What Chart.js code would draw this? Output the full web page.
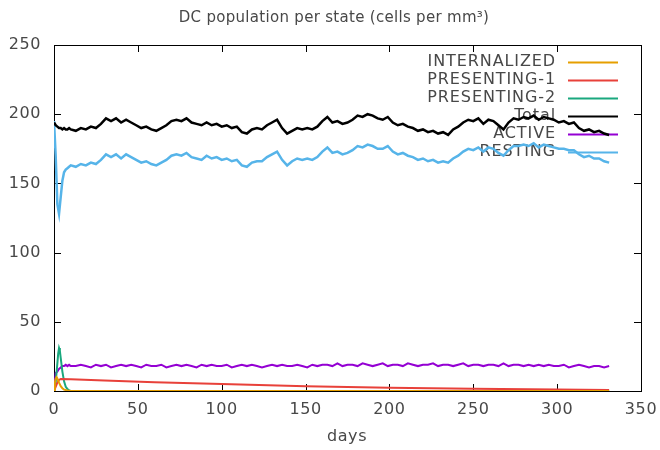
<!DOCTYPE html>
<html>
<head>
<meta charset="utf-8">
<script src="https://cdn.jsdelivr.net/npm/chart.js@4/dist/chart.umd.min.js"></script>
<style>
  html, body { margin: 0; padding: 0; background: #fff; }
  #wrap { width: 660px; height: 450px; }
</style>
</head>
<body>
<div id="wrap"><canvas id="dcChart" width="660" height="450"></canvas></div>
<script>
// sampled days for the noisy series (Total, Active, Resting)
const days = [0, 1, 2, 3, 4, 5, 6, 7, 8, 9, 10,
    13, 16, 19, 22, 25, 28, 31, 34, 37, 40, 43, 46, 49, 52, 55, 58, 61, 64, 67, 70,
    73, 76, 79, 82, 85, 88, 91, 94, 97, 100, 103, 106, 109, 112, 115, 118, 121, 124, 127, 130,
    133, 136, 139, 142, 145, 148, 151, 154, 157, 160, 163, 166, 169, 172, 175, 178, 181, 184, 187, 190,
    193, 196, 199, 202, 205, 208, 211, 214, 217, 220, 223, 226, 229, 232, 235, 238, 241, 244, 247, 250,
    253, 256, 259, 262, 265, 268, 271, 274, 277, 280, 283, 286, 289, 292, 295, 298, 301, 304, 307, 310,
    313, 316, 319, 322, 325, 328, 331];

const totalCells = [194, 192, 191, 190, 190, 189, 190, 189, 189, 190, 189,
    188, 190, 189, 191, 190, 193, 197, 195, 197, 194, 196, 194, 192, 190, 191, 189, 188, 190, 192, 195,
    196, 195, 197, 194, 193, 192, 194, 192, 193, 191, 192, 190, 191, 187, 186, 189, 190, 189, 192, 194,
    196, 190, 186, 188, 190, 189, 190, 189, 191, 195, 198, 194, 195, 193, 194, 196, 199, 198, 200, 199,
    197, 196, 198, 194, 192, 193, 191, 190, 188, 189, 187, 188, 186, 187, 185, 189, 191, 194, 196, 195,
    197, 193, 196, 195, 192, 189, 194, 197, 196, 198, 197, 199, 196, 198, 197, 196, 194, 195, 193, 194,
    190, 188, 189, 187, 188, 186, 185];

const activeCells = [0, 13, 14, 16, 17, 18, 18, 19, 18, 19, 18,
    18, 19, 18, 17, 19, 18, 19, 17, 18, 19, 18, 19, 18, 17, 19, 18, 18, 19, 17, 18,
    19, 18, 19, 18, 17, 19, 18, 19, 18, 18, 19, 17, 18, 19, 18, 19, 18, 17, 18, 19,
    18, 19, 18, 18, 19, 18, 17, 19, 18, 19, 19, 18, 20, 18, 19, 19, 18, 20, 19, 18,
    19, 20, 18, 19, 19, 18, 20, 19, 18, 19, 19, 20, 18, 19, 19, 18, 19, 20, 18, 19,
    19, 18, 19, 19, 18, 20, 18, 19, 19, 18, 19, 18, 19, 18, 19, 18, 18, 19, 17, 18,
    19, 18, 17, 18, 18, 17, 18];

const restingCells = [195, 170, 135, 128, 140, 152, 158, 160, 161, 162, 163,
    162, 164, 163, 165, 164, 167, 171, 169, 171, 168, 171, 169, 167, 165, 166, 164, 163, 165, 167, 170,
    171, 170, 172, 169, 168, 167, 170, 168, 169, 167, 168, 166, 167, 163, 162, 165, 166, 166, 169, 171,
    173, 167, 163, 166, 168, 167, 168, 167, 169, 173, 176, 172, 173, 171, 172, 174, 177, 176, 178, 177,
    175, 175, 177, 173, 171, 172, 170, 169, 167, 168, 166, 167, 165, 166, 165, 168, 170, 173, 175, 174,
    176, 173, 176, 175, 172, 170, 174, 177, 177, 178, 177, 179, 176, 178, 177, 176, 175, 175, 174, 174,
    171, 169, 170, 168, 168, 166, 165];

// short-lived states
const internalizedDays = [0, 0.5, 1, 1.5, 2, 3, 4, 5, 6, 8, 10, 331];
const internalizedCells = [0, 6, 9, 10, 9, 6, 3.5, 2, 1, 0.3, 0, 0];

const presenting1Days = [0, 1, 2, 3, 4, 10, 30, 60, 100, 150, 200, 250, 300, 331];
const presenting1Cells = [0, 3, 6, 8, 8.7, 8.5, 7.5, 6.3, 5, 3.5, 2.3, 1.6, 1, 0.7];

const presenting2Days = [0, 1, 2, 2.5, 3, 3.5, 4, 5, 6, 7, 8, 9, 10, 331];
const presenting2Cells = [0, 6, 20, 27, 31, 29, 24, 14, 7, 3, 1.5, 0.5, 0, 0];

const xTicks = [0, 50, 100, 150, 200, 250, 300, 350];
const yTicks = [0, 50, 100, 150, 200, 250];

const FONT = '"DejaVu Sans", sans-serif';
const TEXT = '#484848';

function pts(xs, ys) {
    return xs.map((x, i) => ({ x: x, y: ys[i] }));
}

const series = [
    { label: 'INTERNALIZED', data: pts(internalizedDays, internalizedCells), color: '#e69f00', width: 2 },
    { label: 'PRESENTING-1', data: pts(presenting1Days, presenting1Cells), color: '#e8413a', width: 2 },
    { label: 'PRESENTING-2', data: pts(presenting2Days, presenting2Cells), color: '#1aa87e', width: 2 },
    { label: 'Total', data: pts(days, totalCells), color: '#000000', width: 2.5 },
    { label: 'ACTIVE', data: pts(days, activeCells), color: '#9400d3', width: 2 },
    { label: 'RESTING', data: pts(days, restingCells), color: '#56b4e9', width: 2.5 }
];

// gnuplot-like frame, inward ticks, tick labels, key, title and x label
const gnuplotLook = {
    id: 'gnuplotLook',
    beforeDatasetsDraw(chart) {
        const ctx = chart.ctx;
        const a = chart.chartArea;
        const sx = chart.scales.x, sy = chart.scales.y;
        ctx.save();
        ctx.strokeStyle = '#000';
        ctx.lineWidth = 1;
        ctx.strokeRect(Math.round(a.left) + 0.5, Math.round(a.top) + 0.5,
            Math.round(a.right - a.left), Math.round(a.bottom - a.top));
        ctx.beginPath();
        xTicks.forEach(v => {
            const px = Math.round(sx.getPixelForValue(v)) + 0.5;
            ctx.moveTo(px, a.bottom); ctx.lineTo(px, a.bottom - 7);
            ctx.moveTo(px, a.top); ctx.lineTo(px, a.top + 7);
        });
        yTicks.forEach(v => {
            const py = Math.round(sy.getPixelForValue(v)) + 0.5;
            ctx.moveTo(a.left, py); ctx.lineTo(a.left + 7, py);
            ctx.moveTo(a.right, py); ctx.lineTo(a.right - 7, py);
        });
        ctx.stroke();

        // tick labels
        ctx.fillStyle = TEXT;
        ctx.font = '16px ' + FONT;
        ctx.letterSpacing = '0.6px';
        ctx.textBaseline = 'middle';
        ctx.textAlign = 'center';
        xTicks.forEach(v => ctx.fillText(String(v), sx.getPixelForValue(v), a.bottom + 19));
        ctx.textAlign = 'right';
        yTicks.forEach(v => ctx.fillText(String(v), a.left - 13, sy.getPixelForValue(v)));

        // key
        ctx.font = '16px ' + FONT;
        ctx.letterSpacing = '0.9px';
        series.forEach((s, i) => {
            const y = 62 + i * 18;
            ctx.fillStyle = TEXT;
            ctx.fillText(s.label, 556, y);
            ctx.strokeStyle = s.color;
            ctx.lineWidth = 2;
            ctx.beginPath();
            ctx.moveTo(568, y + 0.5); ctx.lineTo(618, y + 0.5);
            ctx.stroke();
        });

        // title and axis label
        ctx.textAlign = 'center';
        ctx.fillStyle = TEXT;
        ctx.font = '15px ' + FONT;
        ctx.letterSpacing = '0.3px';
        ctx.fillText('DC population per state (cells per mm\u00b3)', 334, 18);
        ctx.font = '16px ' + FONT;
        ctx.letterSpacing = '0.6px';
        ctx.fillText('days', 347, 437);
        ctx.restore();
    }
};

new Chart(document.getElementById('dcChart'), {
    type: 'line',
    data: {
        datasets: series.map(s => ({
            label: s.label,
            data: s.data,
            borderColor: s.color,
            backgroundColor: s.color,
            borderWidth: s.width,
            pointRadius: 0,
            tension: 0,
            fill: false
        }))
    },
    options: {
        responsive: false,
        animation: false,
        layout: { padding: { top: 45, right: 19, left: 0, bottom: 0 } },
        plugins: {
            legend: { display: false },
            title: { display: false },
            tooltip: { enabled: false }
        },
        scales: {
            x: {
                type: 'linear',
                min: 0, max: 350,
                afterFit(scale) { scale.height = 59; },
                grid: { display: false },
                border: { display: false },
                ticks: { display: false }
            },
            y: {
                min: 0, max: 250,
                afterFit(scale) { scale.width = 54; },
                grid: { display: false },
                border: { display: false },
                ticks: { display: false }
            }
        }
    },
    plugins: [gnuplotLook]
});
</script>
</body>
</html>
